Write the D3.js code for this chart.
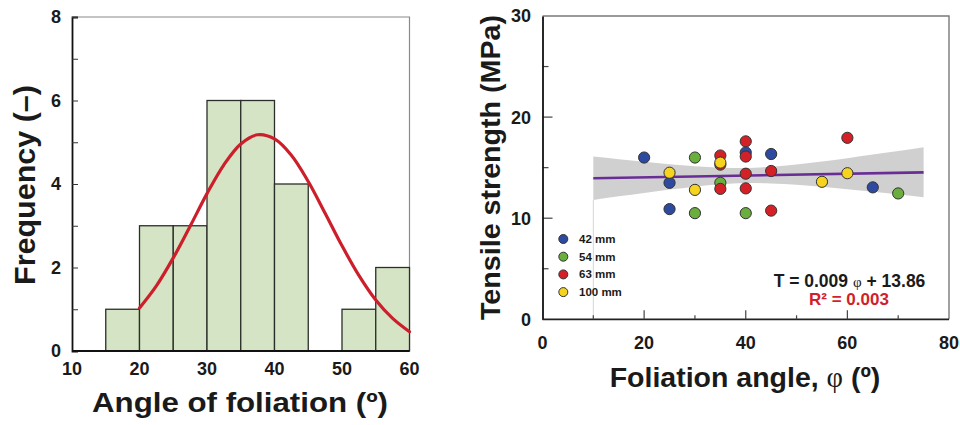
<!DOCTYPE html>
<html><head><meta charset="utf-8">
<script src="https://cdn.jsdelivr.net/npm/d3@7/dist/d3.min.js"></script>
<style>
html,body{margin:0;padding:0;background:#fff;}
text{font-family:"Liberation Sans",Arial,sans-serif;font-weight:bold;fill:#1a1a1a;}
</style></head>
<body><svg id="c" width="960" height="425"></svg>
<script>
// ---------- Left: histogram ----------
const binStarts = [15, 20, 25, 30, 35, 40, 45, 50, 55];
const binCounts = [1, 3, 3, 6, 6, 4, 0, 1, 2];
const binWidth = 5;
const histXTicks = [10, 20, 30, 40, 50, 60];
const histYTicks = [0, 2, 4, 6, 8];
// fitted normal curve
const curveX = [20, 22.5, 25, 27.5, 30, 32.5, 35, 37.5, 40, 42.5, 45, 47.5, 50, 52.5, 55, 57.5, 60];
const curveY = [1.03, 1.56, 2.23, 2.99, 3.77, 4.46, 4.96, 5.18, 5.08, 4.69, 4.06, 3.30, 2.52, 1.81, 1.22, 0.78, 0.46];

// ---------- Right: scatter ----------
const seriesNames = ["42 mm", "54 mm", "63 mm", "100 mm"];
const seriesColors = ["#2d4aa0", "#6aae3e", "#d42127", "#f6d31f"];
const angle42 = [20, 25, 25, 40, 45, 65];
const ts42    = [16.0, 13.5, 10.9, 16.5, 16.35, 13.05];
const angle54 = [30, 30, 35, 40, 70];
const ts54    = [16.0, 10.5, 13.5, 10.5, 12.45];
const angle63 = [35, 35, 35, 40, 40, 40, 40, 45, 45, 60];
const ts63    = [16.2, 15.3, 12.9, 17.6, 16.1, 14.4, 12.95, 14.67, 10.75, 17.95];
const angle100 = [25, 30, 35, 55, 60];
const ts100    = [14.5, 12.8, 15.5, 13.6, 14.45];
const scatterXTicks = [0, 20, 40, 60, 80];
const scatterYTicks = [0, 10, 20, 30];
const fitSlope = 0.009, fitIntercept = 13.86;
const fitRange = [10, 75];
// confidence band
const bandX    = [10, 15, 20, 25, 30, 35, 40, 45, 50, 55, 60, 65, 70, 75];
const bandLow  = [11.80, 12.16, 12.50, 12.83, 13.12, 13.35, 13.47, 13.44, 13.30, 13.10, 12.86, 12.61, 12.34, 12.07];
const bandHigh = [16.10, 15.84, 15.58, 15.34, 15.14, 15.00, 14.97, 15.09, 15.32, 15.61, 15.94, 16.29, 16.64, 17.01];

const svg = d3.select("#c");

// ===== Left chart =====
const hx = d3.scaleLinear().domain([10, 60]).range([72, 409.5]);
const hy = d3.scaleLinear().domain([0, 8]).range([351, 17]);
const gL = svg.append("g");

// frame top/right (gray)
gL.append("path").attr("d", `M${hx(10)},${hy(8)}H${hx(60)}V${hy(0)}`)
  .attr("fill", "none").attr("stroke", "#8a8a8a").attr("stroke-width", 1.2);

// bars
gL.selectAll("rect.bar").data(binStarts.map((s, i) => ({s, c: binCounts[i]})).filter(d => d.c > 0))
  .enter().append("rect").attr("class", "bar")
  .attr("x", d => hx(d.s)).attr("width", d => hx(d.s + binWidth) - hx(d.s))
  .attr("y", d => hy(d.c)).attr("height", d => hy(0) - hy(d.c))
  .attr("fill", "#d4e4c4").attr("stroke", "#2b2f2b").attr("stroke-width", 1.3);

// normal curve
gL.append("path").datum(curveX.map((x, i) => [x, curveY[i]]))
  .attr("d", d3.line().x(d => hx(d[0])).y(d => hy(d[1])).curve(d3.curveCatmullRom))
  .attr("fill", "none").attr("stroke", "#cc1f2b").attr("stroke-width", 3.2).attr("stroke-linecap", "round");

// axes
const lAxisY = d3.axisLeft(hy).tickValues(d3.range(0, 9, 1)).tickSize(-6).tickFormat("");
gL.append("g").attr("transform", `translate(${hx(10)},0)`).call(lAxisY)
  .call(g => { g.select(".domain").attr("stroke", "#111").attr("stroke-width", 1.8); g.selectAll("line").attr("stroke", "#333"); });
gL.append("g").selectAll("text").data(histYTicks).enter().append("text")
  .attr("x", 61).attr("y", d => hy(d)).attr("dy", "0.36em").attr("text-anchor", "end")
  .attr("font-size", 18).text(d => d);
gL.append("line").attr("x1", hx(10)).attr("x2", hx(60)).attr("y1", hy(0)).attr("y2", hy(0))
  .attr("stroke", "#111").attr("stroke-width", 1.8);
gL.append("g").selectAll("text").data(histXTicks).enter().append("text")
  .attr("x", d => hx(d)).attr("y", 375).attr("text-anchor", "middle")
  .attr("font-size", 18).text(d => d);

gL.append("text").attr("x", 240).attr("y", 411.5).attr("text-anchor", "middle")
  .attr("font-size", 28).attr("textLength", 296).attr("lengthAdjust", "spacingAndGlyphs")
  .text("Angle of foliation (º)");
gL.append("text").attr("transform", "translate(35,185) rotate(-90)").attr("text-anchor", "middle")
  .attr("font-size", 29).attr("textLength", 200).attr("lengthAdjust", "spacingAndGlyphs")
  .text("Frequency (–)");

// ===== Right chart =====
const sx = d3.scaleLinear().domain([0, 80]).range([542.5, 949]);
const sy = d3.scaleLinear().domain([0, 30]).range([319.3, 16]);
const gR = svg.append("g");

gR.append("path").attr("d", `M${sx(0)},${sy(30)}H${sx(80)}V${sy(0)}`)
  .attr("fill", "none").attr("stroke", "#7a7a7a").attr("stroke-width", 1.4);

// band
gR.append("path").datum(bandX.map((x, i) => [x, bandLow[i], bandHigh[i]]))
  .attr("d", d3.area().x(d => sx(d[0])).y0(d => sy(d[1])).y1(d => sy(d[2])).curve(d3.curveMonotoneX))
  .attr("fill", "#d0d0d0");
// thin vertical line at band start
gR.append("line").attr("x1", sx(bandX[0])).attr("x2", sx(bandX[0]))
  .attr("y1", sy(bandLow[0])).attr("y2", sy(0)).attr("stroke", "#d6d6d6").attr("stroke-width", 1);

// regression line
gR.append("path").datum(fitRange.map(x => [x, fitSlope * x + fitIntercept]))
  .attr("d", d3.line().x(d => sx(d[0])).y(d => sy(d[1])))
  .attr("stroke", "#6a2d96").attr("stroke-width", 2.6).attr("fill", "none");

// points
const series = [[angle42, ts42], [angle54, ts54], [angle63, ts63], [angle100, ts100]];
series.forEach((s, k) => {
  gR.append("g").selectAll("circle").data(s[0].map((a, i) => [a, s[1][i]])).enter().append("circle")
    .attr("cx", d => sx(d[0])).attr("cy", d => sy(d[1])).attr("r", 5.6)
    .attr("fill", seriesColors[k]).attr("stroke", "#333").attr("stroke-width", 1);
});

// axes
const rAxisY = d3.axisLeft(sy).tickValues(d3.range(5, 30, 5)).tickSize(0).tickFormat("");
gR.append("g").selectAll("line").data(d3.range(5, 30, 5)).enter().append("line")
  .attr("x1", sx(0)).attr("x2", d => sx(0) + (d % 10 === 0 ? 10 : 6))
  .attr("y1", d => sy(d)).attr("y2", d => sy(d)).attr("stroke", "#444").attr("stroke-width", 1.2);
gR.append("g").attr("transform", `translate(${sx(0)},0)`).call(rAxisY)
  .call(g => g.select(".domain").attr("stroke", "#111").attr("stroke-width", 1.8));
gR.append("g").selectAll("text").data(scatterYTicks).enter().append("text")
  .attr("x", 531).attr("y", d => sy(d)).attr("dy", "0.36em").attr("text-anchor", "end")
  .attr("font-size", 18).text(d => d);

gR.append("line").attr("x1", sx(0)).attr("x2", sx(80)).attr("y1", sy(0)).attr("y2", sy(0))
  .attr("stroke", "#222").attr("stroke-width", 1.8);
gR.append("g").selectAll("line").data(d3.range(10, 80, 10)).enter().append("line")
  .attr("x1", d => sx(d)).attr("x2", d => sx(d))
  .attr("y1", sy(0)).attr("y2", d => sy(0) - (d % 20 === 0 ? 9 : 4))
  .attr("stroke", "#444").attr("stroke-width", 1.2);
gR.append("g").selectAll("text").data(scatterXTicks).enter().append("text")
  .attr("x", d => sx(d)).attr("y", 348.5).attr("text-anchor", "middle")
  .attr("font-size", 18).text(d => d);

// titles
const xt = gR.append("text").attr("x", 745).attr("y", 387).attr("text-anchor", "middle")
  .attr("font-size", 28.5);
xt.append("tspan").text("Foliation angle, ");
xt.append("tspan").attr("font-family", "'Liberation Serif','DejaVu Serif',serif").attr("font-weight", "normal").text("φ");
xt.append("tspan").text(" (º)");
gR.append("text").attr("transform", "translate(500,167.5) rotate(-90)").attr("text-anchor", "middle")
  .attr("font-size", 28.5).attr("textLength", 305).attr("lengthAdjust", "spacingAndGlyphs")
  .text("Tensile strength (MPa)");

// legend
const lg = gR.append("g");
seriesNames.forEach((n, i) => {
  const y = 239 + i * 17.7;
  lg.append("circle").attr("cx", 563.3).attr("cy", y).attr("r", 4.5)
    .attr("fill", seriesColors[i]).attr("stroke", "#333").attr("stroke-width", 1);
  lg.append("text").attr("x", 579).attr("y", y + 4).attr("font-size", 11.5).attr("fill", "#222").text(n);
});

// equation
const eq = gR.append("text").attr("x", 849.5).attr("y", 286.7).attr("text-anchor", "middle").attr("font-size", 17.5);
eq.append("tspan").text(`T = ${fitSlope.toFixed(3)} `);
eq.append("tspan").attr("font-family", "'Liberation Serif','DejaVu Serif',serif").attr("font-weight", "normal").attr("font-size", 15).text("φ");
eq.append("tspan").text(` + ${fitIntercept.toFixed(2)}`);
gR.append("text").attr("x", 849).attr("y", 305).attr("text-anchor", "middle").attr("font-size", 17)
  .style("fill", "#d11f2c").text("R² = 0.003");
</script></body></html>
